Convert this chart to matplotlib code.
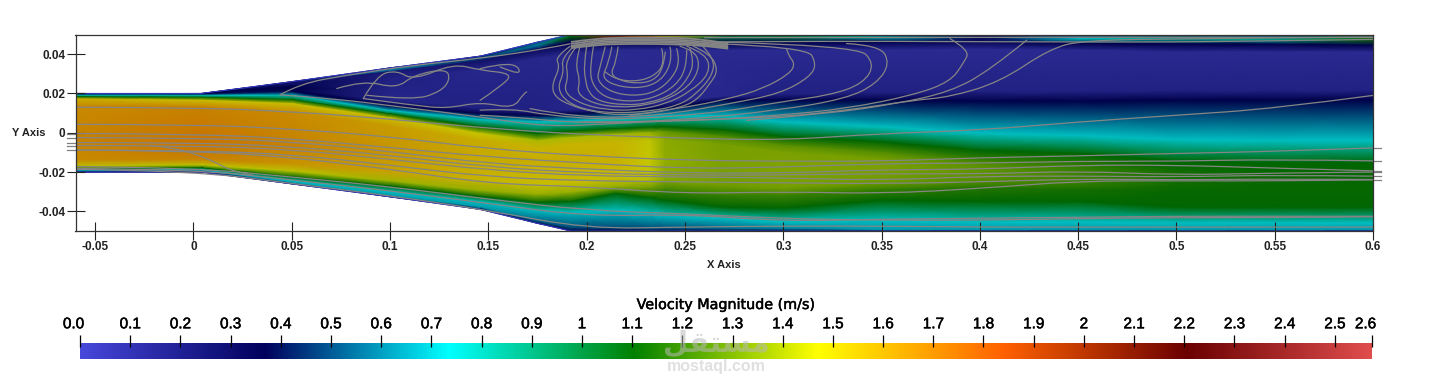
import matplotlib
matplotlib.use("Agg")
import matplotlib.pyplot as plt
import matplotlib.patheffects as pe
import numpy as np
from matplotlib.colors import LinearSegmentedColormap, Normalize
from matplotlib.cm import ScalarMappable
from matplotlib.path import Path
from matplotlib.patches import PathPatch
from matplotlib.transforms import ScaledTranslation

plt.rcParams['font.family'] = ['Liberation Sans', 'DejaVu Sans']

# ---- data -------------------------------------------------------------
x_ticks = [-0.05, 0, 0.05, 0.1, 0.15, 0.2, 0.25, 0.3, 0.35, 0.4, 0.45, 0.5, 0.55, 0.6]
x_tick_labels = ['-0.05', '0', '0.05', '0.1', '0.15', '0.2', '0.25', '0.3', '0.35', '0.4', '0.45', '0.5', '0.55', '0.6']
y_ticks = [0.04, 0.02, 0, -0.02, -0.04]
y_tick_labels = ['0.04', '0.02', '0', '-0.02', '-0.04']
speed_max = 2.574
bar_ticks = [0, .1, .2, .3, .4, .5, .6, .7, .8, .9, 1, 1.1, 1.2, 1.3, 1.4, 1.5, 1.6, 1.7, 1.8, 1.9, 2, 2.1, 2.2, 2.3, 2.4, 2.5, speed_max]
bar_labels = ['0.0', '0.1', '0.2', '0.3', '0.4', '0.5', '0.6', '0.7', '0.8', '0.9', '1', '1.1', '1.2', '1.3', '1.4', '1.5', '1.6', '1.7', '1.8', '1.9', '2', '2.1', '2.2', '2.3', '2.4', '2.5', '2.6']
cmap_stops = [(71, 71, 219), (0, 0, 92), (0, 255, 255), (0, 128, 0), (255, 255, 0), (255, 97, 0), (107, 0, 0), (224, 77, 77)]

# stations along the duct
x_st = [-.06, .004, .05, .1, .146, .175, .192, .215, .232, .24, .27, .3, .35, .4, .45, .5, .55, .6]

# y position of each flow layer at each station, top wall to bottom wall
y_wall_top = [.02, .02, .026, .033, .039, .0461, .05, .05, .05, .05, .05, .05, .05, .05, .05, .05, .05, .05]
y_film_a = [.0198, .0198, .0255, .032, .038, .0445, .049, .0495, .0495, .0495, .049, .049, .0485, .0485, .0478, .0478, .0475, .048]
y_film_b = [.0197, .0196, .025, .031, .0365, .0425, .0462, .0465, .0465, .0465, .046, .046, .0465, .046, .0455, .0452, .045, .0445]
y_slow_top = [.0196, .0195, .0235, .028, .032, .038, .04, .042, .042, .042, .042, .042, .042, .0425, .042, .041, .041, .041]
y_slow_bot = [.0194, .0193, .0218, .0165, .0125, .011, .0115, .0125, .0145, .0155, .0185, .0195, .0205, .021, .021, .0215, .0215, .0215]
y_navy_up = [.0192, .0191, .0208, .0135, .0095, .0085, .0095, .0105, .012, .0125, .0165, .0165, .0165, .016, .016, .0165, .0165, .0165]
y_cyan_up = [.019, .019, .019, .0112, .0066, .0055, .0058, .0068, .008, .0085, .0085, .0055, .003, -.0003, -.0015, -.0035, -.004, -.004]
y_green_up = [.0183, .018, .0168, .0095, .003, -.0005, .0008, .002, .0028, .003, .0015, -.002, -.0047, -.009, -.0105, -.0145, -.0155, -.0155]
y_core_edge_up = [.0172, .0165, .0148, .0075, -.0005, -.004, -.0025, -.001, 0, .0005, -.002, -.0065, -.01, -.014, -.016, -.019, -.02, -.02]
y_core_up = [.014, .013, .0105, .0035, -.004, -.0075, -.006, -.005, -.004, -.0035, -.006, -.01, -.0135, -.0165, -.018, -.0205, -.0215, -.0215]
y_core_mid = [-.003, -.005, -.007, -.01, -.012, -.014, -.014, -.014, -.0145, -.015, -.016, -.018, -.019, -.021, -.022, -.023, -.024, -.025]
y_core_lo = [-.014, -.0135, -.016, -.02, -.024, -.0265, -.0255, -.023, -.0235, -.024, -.027, -.028, -.0255, -.025, -.026, -.027, -.027, -.027]
y_core_edge_lo = [-.0172, -.0165, -.0195, -.0245, -.0295, -.0315, -.0305, -.0275, -.0283, -.029, -.032, -.032, -.029, -.028, -.029, -.03, -.03, -.03]
y_green_lo = [-.0185, -.018, -.0225, -.0272, -.0325, -.0355, -.035, -.031, -.033, -.0345, -.038, -.0385, -.0345, -.035, -.035, -.038, -.038, -.038]
y_cyan_lo = [-.0192, -.019, -.0245, -.0301, -.0352, -.0395, -.0405, -.0395, -.041, -.042, -.0435, -.0455, -.0445, -.0455, -.0455, -.046, -.046, -.046]
y_navy_lo = [-.0197, -.0197, -.0255, -.032, -.038, -.045, -.0485, -.0485, -.049, -.049, -.049, -.049, -.0495, -.0495, -.0495, -.0495, -.0495, -.0495]
y_wall_bot = [-.02, -.02, -.026, -.0326, -.039, -.0461, -.05, -.05, -.05, -.05, -.05, -.05, -.05, -.05, -.05, -.05, -.05, -.05]

# velocity magnitude of each layer at each station
v_wall_top = [.37, .37, .3, .3, .3, .5, .9, 1.0, .95, .9, .8, .7, .5, .3, .3, .4, .4, .5]
v_film_a = [.55, .5, .3, .62, .5, .6, 1.1, 2.0, 1.7, 1.5, 1.0, 1.0, .8, .3, .75, .85, .85, 1.15]
v_film_b = [.37, .37, .25, .2, .25, .3, .37, .37, .37, .37, .37, .37, .37, .3, .37, .37, .37, .37]
v_slow_top = [.37, .37, .37, .15, .12, .12, .12, .1, .1, .1, .1, .1, .1, .1, .1, .1, .1, .1]
v_slow_bot = [.45, .42, .37, .12, .15, .15, .12, .1, .11, .12, .12, .15, .15, .15, .15, .15, .15, .15]
v_navy_up = [.5, .5, .37, .37, .37, .37, .37, .37, .37, .37, .37, .37, .37, .37, .37, .37, .37, .37]
v_cyan_up = [.72, .72, .72, .72, .72, .72, .72, .72, .72, .72, .72, .72, .72, .72, .72, .72, .72, .72]
v_green_up = [1.1, 1.1, 1.1, 1.1, 1.1, 1.1, 1.1, 1.1, 1.1, 1.1, 1.1, 1.1, 1.1, 1.1, 1.1, 1.1, 1.1, 1.1]
v_core_edge_up = [1.55, 1.5, 1.5, 1.5, 1.48, 1.42, 1.42, 1.42, 1.38, 1.28, 1.25, 1.27, 1.26, 1.21, 1.18, 1.13, 1.115, 1.115]
v_core_up = [1.65, 1.68, 1.65, 1.6, 1.55, 1.53, 1.53, 1.53, 1.46, 1.36, 1.32, 1.33, 1.32, 1.27, 1.2, 1.14, 1.12, 1.115]
v_core_mid = [1.68, 1.72, 1.68, 1.62, 1.56, 1.55, 1.55, 1.54, 1.47, 1.37, 1.33, 1.34, 1.33, 1.28, 1.22, 1.14, 1.12, 1.115]
v_core_lo = [1.65, 1.68, 1.62, 1.58, 1.53, 1.5, 1.5, 1.5, 1.45, 1.35, 1.31, 1.32, 1.3, 1.25, 1.2, 1.13, 1.115, 1.115]
v_core_edge_lo = [1.45, 1.45, 1.45, 1.4, 1.38, 1.38, 1.38, 1.38, 1.3, 1.22, 1.2, 1.21, 1.2, 1.17, 1.14, 1.115, 1.115, 1.115]
v_green_lo = [1.1, 1.1, 1.1, 1.1, 1.1, 1.1, 1.1, 1.1, 1.1, 1.1, 1.1, 1.1, 1.1, 1.1, 1.1, 1.1, 1.1, 1.1]
v_cyan_lo = [.72, .72, .72, .72, .72, .72, .72, .72, .72, .72, .72, .72, .72, .72, .72, .72, .72, .72]
v_navy_lo = [.5, .5, .65, .65, .65, .55, .5, .5, .5, .5, .55, .6, .65, .65, .65, .65, .65, .65]
v_wall_bot = [.37, .37, .37, .37, .37, .37, .37, .37, .37, .37, .37, .37, .37, .37, .37, .37, .37, .37]

# streamlines through the core
sl_x = [-.06, 0, .05, .1, .15, .2, .25, .3, .35, .4, .45, .5, .55, .6]
sl_1 = [.013, .0128, .0108, .007, .0022, -.001, -.0028, -.0038, -.0004, .0013, .0055, .0089, .0123, .019]
sl_2 = [.0043, .0042, .002, -.002, -.0082, -.0118, -.014, -.0145, -.0145, -.0127, -.0118, -.0105, -.0095, -.0077]
sl_3 = [-.0004, -.0006, -.003, -.0075, -.0123, -.0155, -.0183, -.0175, -.0157, -.0155, -.0145, -.0145, -.0135, -.0143]
sl_4 = [-.0025, -.0026, -.0045, -.0095, -.0157, -.0185, -.0205, -.0205, -.0188, -.0186, -.0165, -.0165, -.018, -.0194]
sl_5 = [-.005, -.005, -.007, -.0115, -.0174, -.0205, -.0216, -.0215, -.0208, -.021, -.0195, -.0215, -.0205, -.02]
sl_6 = [-.0065, -.0066, -.0085, -.0135, -.019, -.022, -.0225, -.023, -.0242, -.0222, -.022, -.0225, -.0215, -.0221]
sl_7 = [-.0088, -.009, -.011, -.0165, -.0225, -.0245, -.025, -.0255, -.0259, -.025, -.0235, -.024, -.0235, -.0238]
sl_8 = [-.0088, -.0092, -.0125, -.0185, -.0259, -.0275, -.031, -.03, -.031, -.0284, -.0245, -.0245, -.0245, -.024]
sl_9 = [-.0172, -.0178, -.0225, -.0275, -.0338, -.0395, -.0412, -.0437, -.0445, -.0445, -.0437, -.0432, -.0432, -.0428]
sl_10 = [-.0182, -.0186, -.024, -.0295, -.036, -.0425, -.0415, -.045, -.044, -.0435, -.043, -.0425, -.0425, -.0425]
sl_11 = [-.0186, -.0195, -.0258, -.032, -.0395, -.0488, -.048, -.0475, -.0475, -.048, -.048, -.048, -.048, -.048]
stub_left = [-.0004, -.0025, -.005, -.0065, -.0088]
stub_right = [-.0077, -.0143, -.0194, -.02, -.0221, -.0238]

# recirculating streamlines as (x list, y list) pairs
loops = [
    ([.1916, .1839, .1865, .1822, .1839, .1916, .2034, .2170, .2339, .2475, .2560, .2628, .2670, .2628, .2543],
     [.0440, .0386, .0335, .0242, .0182, .0140, .0106, .0089, .0101, .0128, .0165, .0250, .0318, .0403, .0440]),
    ([.1935, .1870, .1885, .1850, .1900, .2010, .2160, .2330, .2470, .2555, .2640, .2650, .2590],
     [.0440, .0380, .0310, .0225, .0155, .0112, .0100, .0110, .0140, .0195, .0290, .0380, .0440]),
    ([.1950, .1890, .1907, .1882, .1967, .2102, .2255, .2407, .2526, .2628, .2611, .2509],
     [.0440, .0369, .0284, .0208, .0148, .0115, .0115, .0148, .0208, .0301, .0403, .0440]),
    ([.1967, .1941, .1967, .1950, .2034, .2170, .2306, .2441, .2543, .2577, .2543, .2475],
     [.0440, .0352, .0267, .0199, .0148, .0128, .0140, .0182, .0259, .0352, .0420, .0440]),
    ([.2000, .1985, .1995, .2010, .2060, .2190, .2320, .2450, .2525, .2545, .2525],
     [.0438, .0345, .0260, .0205, .0160, .0140, .0150, .0200, .0290, .0370, .0430]),
    ([.2034, .2017, .2026, .2085, .2204, .2339, .2458, .2509, .2509],
     [.0436, .0335, .0250, .0182, .0157, .0174, .0242, .0335, .0420]),
    ([.2094, .2068, .2051, .2119, .2238, .2356, .2441, .2475, .2458],
     [.0436, .0335, .0267, .0208, .0186, .0208, .0284, .0369, .0428]),
    ([.2128, .2111, .2077, .2136, .2255, .2356, .2416, .2433, .2424],
     [.0436, .0352, .0284, .0242, .0225, .0250, .0318, .0403, .0436]),
    ([.2160, .2150, .2120, .2170, .2260, .2340, .2390, .2400],
     [.0436, .0360, .0300, .0265, .0250, .0265, .0325, .0410]),
    ([.2382, .2399, .2339, .2238, .2136, .2094],
     [.0428, .0352, .0284, .0259, .0276, .0310]),
    ([.3017, .3026, .3060, .3034, .2899, .2729, .2475, .2221],
     [.0428, .0394, .0352, .0301, .0225, .0174, .0123, .0089]),
    ([.2645, .3119, .3170, .3136, .2984, .2729, .2390, .1967, .1712],
     [.0454, .0436, .0352, .0284, .0199, .0148, .0089, .0072, .0123]),
    ([.2645, .3373, .3467, .3407, .3238, .2984, .2645, .2136, .1797, .1628, .1458],
     [.0462, .0445, .0352, .0250, .0191, .0157, .0098, .0064, .0089, .0123, .0115]),
    ([.3322, .3492, .3543, .3475, .3322, .2984, .2475, .1967, .1628, .1458],
     [.0454, .0445, .0352, .0250, .0174, .0115, .0063, .0047, .0081, .0089]),
    ([.3848, .3950, .3916, .3848, .3661, .3322, .2984, .2475, .1967],
     [.0479, .0420, .0352, .0259, .0191, .0123, .0089, .0055, .0055]),
    ([.4238, .4051, .3848, .3577, .3238, .2814],
     [.0471, .0318, .0208, .0148, .0098, .0063]),
    ([.044, .0543, .078, .112, .146, .1797, .1916],
     [.0193, .0250, .0293, .0344, .0378, .0428, .0453]),
    ([.044, .0712, .1051, .1458, .1797, .2136, .2475, .2984, .3323, .366, .3848, .4102, .4357, .4526, .5035, .6],
     [.0193, .0174, .0132, .0081, .003, .0047, .0063, .008, .0114, .0165, .0182, .0258, .0428, .047, .0479, .0487]),
    ([.0729, .0865, .1034, .1119, .1288, .1305, .1254, .1119, .0881],
     [.0225, .0267, .0225, .0293, .0327, .0267, .0208, .0165, .0191]),
    ([.0864, .0932, .1034, .1119, .1322, .1458, .1628, .1560, .1458],
     [.0174, .0293, .0318, .0267, .0352, .0318, .0301, .0233, .0165]),
    ([.0864, .1119, .1288, .1458, .1628, .1678, .1695],
     [.0174, .0140, .0123, .0157, .0123, .0199, .0208]),
    ([.1458, .1628, .1678, .1560],
     [.0326, .0369, .0284, .0335]),
    ([-.022, -.01, 0, .01, .0204, .03],
     [-.0064, -.0078, -.0105, -.0145, -.0199, -.0215]),
    ([.26, .33, .38, .45, .5, .6],
     [.0484, .0484, .0485, .0486, .0486, .0485]),
    ([.26, .33, .38, .45, .5, .55, .6],
     [.0462, .0466, .0464, .0462, .0462, .0468, .0475]),
]
# the dense band of streamlines packed under the top wall
film_x = [.192, .205, .22, .235, .25, .262, .272]
film_rows = [[.0462, .0480, .0484, .0484, .0482, .047, .0455],
             [.0452, .0472, .0476, .0476, .0472, .0460, .0447],
             [.0442, .0464, .0468, .0468, .0464, .0452, .0440],
             [.0436, .0456, .0460, .0460, .0456, .0446, .0434],
             [.0430, .0448, .0452, .0452, .0448, .0440, .0428]]
# ----------------------------------------------------------------------

W, H = 1434, 382
fig = plt.figure(figsize=(W / 100, H / 100), dpi=100, facecolor='white')


def box(l, t, r, b):
    return [l / W, 1 - b / H, (r - l) / W, (b - t) / H]


def smooth_line(ax, xs, ys, **kw):
    """Stroke the read-off points as a chain of quadratic Bezier pieces."""
    pts = np.column_stack([xs, ys])
    verts = [pts[0]]
    codes = [Path.MOVETO]
    for i in range(1, len(pts) - 1):
        end = pts[i + 1] if i == len(pts) - 2 else (pts[i] + pts[i + 1]) / 2
        verts += [pts[i], end]
        codes += [Path.CURVE3, Path.CURVE3]
    if len(pts) == 2:
        verts.append(pts[1])
        codes.append(Path.LINETO)
    ax.add_patch(PathPatch(Path(verts, codes), fill=False, **kw))


stops = np.array(cmap_stops) / 255
pos = np.linspace(0, 1, len(stops))
cmap_bar = LinearSegmentedColormap.from_list('rainbow_desat', list(zip(pos, stops)), N=1024)
cmap_field = LinearSegmentedColormap.from_list('rainbow_lit', list(zip(pos, stops * 0.78)), N=1024)
norm = Normalize(0, speed_max)

ax = fig.add_axes(box(75.5, 34.5, 1373, 231))
y_layers = [y_wall_top, y_film_a, y_film_b, y_slow_top, y_slow_bot, y_navy_up, y_cyan_up, y_green_up,
            y_core_edge_up, y_core_up, y_core_mid, y_core_lo, y_core_edge_lo, y_green_lo, y_cyan_lo,
            y_navy_lo, y_wall_bot]
v_layers = [v_wall_top, v_film_a, v_film_b, v_slow_top, v_slow_bot, v_navy_up, v_cyan_up, v_green_up,
            v_core_edge_up, v_core_up, v_core_mid, v_core_lo, v_core_edge_lo, v_green_lo, v_cyan_lo,
            v_navy_lo, v_wall_bot]
Y = np.array(y_layers)
V = np.array(v_layers)
X = np.tile(np.array(x_st), (Y.shape[0], 1))
ax.pcolormesh(X, Y, V, shading='gouraud', cmap=cmap_field, norm=norm, zorder=1)

wall_kw = dict(color='#3a3ac8', lw=0.7, zorder=2)
ax.plot(x_st, y_wall_top, **wall_kw)
ax.plot(x_st, y_wall_bot, **wall_kw)

line_kw = dict(edgecolor='#858585', lw=0.9, zorder=3, capstyle='round', joinstyle='round')
for row in (sl_1, sl_2, sl_3, sl_4, sl_5, sl_6, sl_7, sl_8, sl_9, sl_10, sl_11):
    smooth_line(ax, sl_x, row, **line_kw)
for lx, ly in loops:
    smooth_line(ax, lx, ly, **line_kw)
for row in film_rows:
    smooth_line(ax, film_x, row, edgecolor='#858585', lw=1.3, zorder=3)
stub_kw = dict(color='#808080', lw=0.9, zorder=3, clip_on=False)
for yv in stub_left:
    ax.plot([-.0645, -.06], [yv, yv], **stub_kw)
for yv in stub_right:
    ax.plot([.6, .6042], [yv, yv], **stub_kw)

ax.set_xlim(-.06, .6)
ax.set_ylim(-.05, .05)
ax.set_xticks(x_ticks, x_tick_labels)
ax.set_yticks(y_ticks, y_tick_labels)
ax.tick_params(axis='both', direction='inout', length=13, width=0.8, color='#222222',
               labelsize=8.5, labelcolor='#222222', pad=1)
for lab in ax.get_xticklabels() + ax.get_yticklabels():
    lab.set_fontweight('bold')
ax.set_axisbelow(False)
for s in ax.spines.values():
    s.set_color('#333333')
    s.set_linewidth(0.9)
    s.set_zorder(5)

fig.text(724 / W, 1 - 265.5 / H, 'X Axis', ha='center', va='center', fontsize=8, fontweight='bold', color='#222222')
fig.text(29 / W, 1 - 132.5 / H, 'Y Axis', ha='center', va='center', fontsize=8, fontweight='bold', color='#222222')

cax = fig.add_axes(box(80, 343, 1372, 359))
cb = fig.colorbar(ScalarMappable(norm=norm, cmap=cmap_bar), cax=cax, orientation='horizontal')
cb.outline.set_visible(False)
cax.set_xticks([])
cax.minorticks_off()

# tick ruler straddling the bar's top edge
tax = fig.add_axes(box(80, 341, 1372, 342))
tax.patch.set_visible(False)
tax.set_xlim(0, speed_max)
tax.set_yticks([])
tax.xaxis.set_ticks_position('top')
tax.set_xticks(bar_ticks, bar_labels)
tax.tick_params(axis='x', direction='inout', length=8, width=0.9, color='black', labelsize=11,
                labelcolor='black', pad=3)
for s in tax.spines.values():
    s.set_visible(False)
semi_bold = [pe.withStroke(linewidth=0.35, foreground='black')]
tlabs = tax.get_xticklabels()
for lab in tlabs:
    lab.set_path_effects(semi_bold)
tlabs[0].set_transform(tlabs[0].get_transform() + ScaledTranslation(-6.5 / 100, 0, fig.dpi_scale_trans))
tlabs[-1].set_transform(tlabs[-1].get_transform() + ScaledTranslation(-6.5 / 100, 0, fig.dpi_scale_trans))

fig.text(725.5 / W, 1 - 305 / H, 'Velocity Magnitude (m/s)', ha='center', va='center', fontsize=10.3,
         family=['DejaVu Sans'], color='black', path_effects=semi_bold)

# watermark
fig.text(716 / W, 1 - 344 / H, '\ufede\ufed8\ufe98\ufeb4\ufee3', ha='center', va='center', fontsize=21,
         family=['DejaVu Sans'], fontweight='bold', color='#b8b8b8', alpha=0.55, zorder=10)
fig.text(716 / W, 1 - 366 / H, 'mostaql.com', ha='center', va='center', fontsize=11.5, fontweight='bold',
         color='#e0e0e0', zorder=10)

fig.savefig('out.png', dpi=100)
